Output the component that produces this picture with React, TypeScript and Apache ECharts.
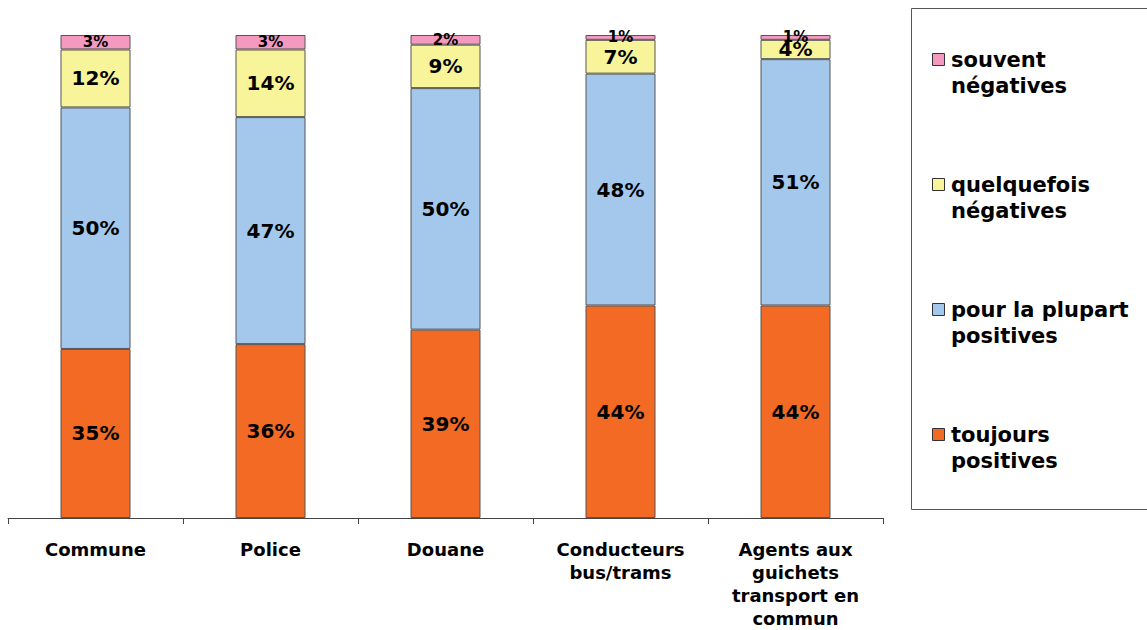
import React, { useEffect, useRef } from "react";
import * as echarts from "echarts";

const categories = [
  "Commune",
  "Police",
  "Douane",
  "Conducteurs\nbus/trams",
  "Agents aux\nguichets\ntransport en\ncommun",
];
const seriesNames = [
  "toujours positives",
  "pour la plupart positives",
  "quelquefois négatives",
  "souvent négatives",
];
const legendLabels = [
  "souvent\nnégatives",
  "quelquefois\nnégatives",
  "pour la plupart\npositives",
  "toujours\npositives",
];
const toujours = [35, 36, 39, 44, 44];
const plupart = [50, 47, 50, 48, 51];
const quelquefois = [12, 14, 9, 7, 4];
const souvent = [3, 3, 2, 1, 1];
const colors = ["#F26A24", "#A3C8EC", "#F7F49A", "#F49AC1"];

const FONT = "DejaVu Sans";

export default function App() {
  const ref = useRef<HTMLDivElement>(null);
  useEffect(() => {
    if (!ref.current) return;
    const chart = echarts.init(ref.current, undefined, { renderer: "svg" });
    const values = [toujours, plupart, quelquefois, souvent];
    const series = values.map((arr, i) => ({
      name: seriesNames[i],
      type: "bar",
      stack: "total",
      barWidth: 70,
      itemStyle: { color: colors[i], borderColor: "#555", borderWidth: 1 },
      label: {
        show: true,
        position: "inside",
        formatter: "{c}%",
        fontFamily: FONT,
        fontWeight: "bold",
        fontSize: 20,
        color: "#000",
      },
      data: arr.map((v) => ({
        value: v,
        label: v <= 3 ? { fontSize: 15 } : undefined,
      })),
    }));

    const legendOrder = [3, 2, 1, 0];
    const legendGraphics: any[] = [
      {
        type: "rect",
        shape: { x: 911.5, y: 8.5, width: 240, height: 501 },
        style: { fill: "#fff", stroke: "#555", lineWidth: 1 },
      },
    ];
    legendOrder.forEach((si, k) => {
      const cy = 60 + k * 125;
      legendGraphics.push({
        type: "rect",
        shape: { x: 932.5, y: cy - 6.5, width: 12, height: 12 },
        style: { fill: colors[si], stroke: "#333", lineWidth: 1 },
      });
      legendGraphics.push({
        type: "text",
        x: 951,
        y: cy - 13,
        style: {
          text: legendLabels[k],
          fontFamily: FONT,
          fontWeight: "bold",
          fontSize: 21,
          lineHeight: 26,
          fill: "#000",
          textVerticalAlign: "top",
        },
      });
    });

    chart.setOption({
      animation: false,
      backgroundColor: "#fff",
      grid: { left: 8, right: 264, top: 35, bottom: 112, containLabel: false },
      xAxis: {
        type: "category",
        data: categories,
        axisLine: { lineStyle: { color: "#444", width: 1 } },
        axisTick: { show: true, length: 6, lineStyle: { color: "#444" } },
        axisLabel: {
          interval: 0,
          fontFamily: FONT,
          fontWeight: "bold",
          fontSize: 18,
          lineHeight: 23,
          color: "#000",
          margin: 20,
        },
      },
      yAxis: {
        type: "value",
        min: 0,
        max: 100,
        show: false,
        splitLine: { show: false },
      },
      series,
      graphic: legendGraphics,
    });
    return () => chart.dispose();
  }, []);
  return (
    <div
      ref={ref}
      style={{ position: "absolute", left: 0, top: 0, width: 1147, height: 630 }}
    />
  );
}
